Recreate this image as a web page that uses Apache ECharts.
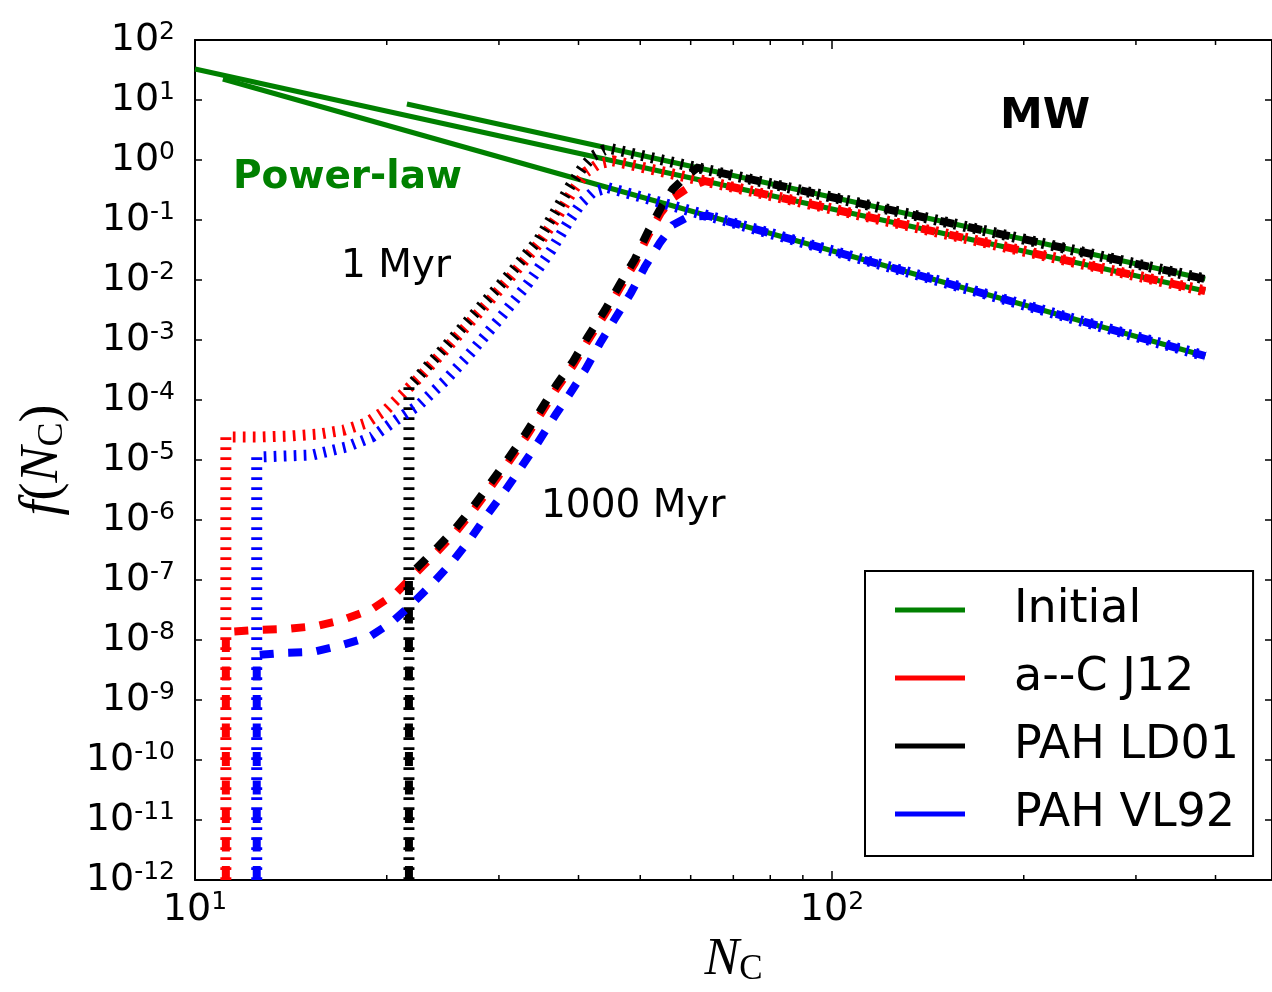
<!DOCTYPE html>
<html>
<head>
<meta charset="utf-8">
<script src="https://cdn.jsdelivr.net/npm/echarts@6/dist/echarts.min.js"></script>
<style>
html,body{margin:0;padding:0;background:#fff;}
#chart{width:1272px;height:992px;}
</style>
</head>
<body>
<div id="chart"></div>
<script>
// ---- axis extents & ticks ----
const xMin = 10, xMax = 490.6;
const yMin = 1e-12, yMax = 100;
const xMajorTicks = [10, 100];
const xMinorTicks = [20, 30, 40, 50, 60, 70, 80, 90, 200, 300, 400];
const yTickValues = [1e-12, 1e-11, 1e-10, 1e-9, 1e-8, 1e-7, 1e-6, 1e-5, 1e-4, 1e-3, 1e-2, 1e-1, 1, 10, 100];

// ---- legend ----
const legendNames = ['Initial', 'a--C J12', 'PAH LD01', 'PAH VL92'];
const legendColors = ['#008000', '#ff0000', '#000000', '#0000ff'];

// ---- Initial power laws (green) ----
const initRed = [[10, 32.8], [385.4, 6.56e-3]];
const initBlue = [[11.06, 22.4], [385.4, 5.41e-4]];
const initBlack = [[21.51, 8.58], [385.4, 1.04e-2]];

// ---- a--C J12 (red) ----
const red1Myr = [[11.18, 1e-12], [11.18, 2.42e-5], [12.64, 2.42e-5], [14.08, 2.51e-5], [15.68, 2.71e-5], [17.15, 3.16e-5], [18.57, 4.14e-5], [19.95, 6.81e-5], [22.46, 2.33e-4], [24.76, 7.08e-4], [27.88, 2.82e-3], [31.40, 1.166e-2], [34.59, 3.98e-2], [37.18, 0.1212], [39.25, 0.316], [41.12, 0.631], [42.94, 0.858], [45.33, 0.967], [385.4, 6.56e-3]];
const red1000Myr = [[11.18, 1e-12], [11.18, 1.36e-8], [12.50, 1.47e-8], [13.93, 1.53e-8], [15.51, 1.71e-8], [17.03, 2.15e-8], [18.97, 3.29e-8], [20.69, 6.07e-8], [22.22, 1.31e-7], [23.89, 2.82e-7], [25.67, 6.31e-7], [27.38, 1.47e-6], [29.11, 3.55e-6], [30.84, 8.25e-6], [33.01, 2.33e-5], [34.97, 6.07e-5], [36.93, 1.53e-4], [39.25, 3.83e-4], [41.43, 1e-3], [44.02, 2.71e-3], [46.46, 7.36e-3], [49.04, 1.92e-2], [51.38, 5.41e-2], [53.84, 0.131], [56.23, 0.233], [59.36, 0.341], [63.1, 0.447], [385.4, 6.56e-3]];

// ---- PAH LD01 (black) ----
const black1Myr = [[21.67, 1e-12], [21.67, 1.65e-4], [22.46, 2.51e-4], [24.76, 7.94e-4], [27.88, 3.29e-3], [31.40, 1.36e-2], [34.59, 4.64e-2], [36.91, 0.147], [38.82, 0.369], [40.54, 0.736], [42.17, 1.166], [43.86, 1.468], [45.15, 1.528], [385.4, 1.04e-2]];
const black1000Myr = [[21.67, 1e-12], [21.67, 1.0e-7], [22.22, 1.53e-7], [23.89, 3.29e-7], [25.67, 7.36e-7], [27.38, 1.71e-6], [29.11, 4.14e-6], [30.84, 9.62e-6], [33.01, 2.71e-5], [34.97, 7.08e-5], [36.93, 1.78e-4], [39.25, 4.47e-4], [41.43, 1.166e-3], [44.02, 3.16e-3], [46.46, 8.58e-3], [49.04, 2.24e-2], [51.38, 6.31e-2], [53.84, 0.158], [56.23, 0.329], [58.93, 0.521], [61.5, 0.744], [385.4, 1.04e-2]];

// ---- PAH VL92 (blue) ----
const blue1Myr = [[12.50, 1e-12], [12.50, 1.122e-5], [15.29, 1.212e-5], [17.28, 1.647e-5], [18.97, 2.42e-5], [20.69, 4.64e-5], [22.46, 8.25e-5], [24.76, 2.15e-4], [26.90, 5.62e-4], [29.96, 2.15e-3], [33.37, 8.91e-3], [36.26, 3.16e-2], [38.55, 9.26e-2], [40.40, 0.192], [42.17, 0.293], [44.5, 0.3465], [385.4, 5.41e-4]];
const blue1000Myr = [[12.50, 1e-12], [12.50, 5.62e-9], [13.73, 6.07e-9], [15.29, 6.31e-9], [17.03, 8.25e-9], [18.77, 1.12e-8], [20.39, 2.0e-8], [21.91, 3.98e-8], [23.71, 9.26e-8], [25.48, 2.15e-7], [27.19, 5.21e-7], [28.90, 1.31e-6], [30.73, 3.16e-6], [32.54, 7.64e-6], [34.59, 2.0e-5], [36.79, 5.62e-5], [38.83, 1.31e-4], [40.97, 3.16e-4], [43.25, 8.91e-4], [45.80, 2.42e-3], [48.34, 6.07e-3], [50.83, 1.647e-2], [53.65, 4.14e-2], [56.23, 8.25e-2], [59.36, 0.112], [63.8, 0.118], [385.4, 5.41e-4]];

// ---- text annotations ----
const annotations = [
  {text: 'MW', x: 1000, y: 117, font: 'bold 43px "DejaVu Sans"', color: '#000'},
  {text: 'Power-law', x: 233, y: 178, font: 'bold 39px "DejaVu Sans"', color: '#008000'},
  {text: '1 Myr', x: 341, y: 267, font: '39px "DejaVu Sans"', color: '#000'},
  {text: '1000 Myr', x: 541, y: 507, font: '39px "DejaVu Sans"', color: '#000'}
];

const FONT = 'DejaVu Sans';
const SERIF = 'Liberation Serif';
const DOTTED = [2.7, 7.3];
const DASHED = [14, 14.5];

function powLabel(v) {
  const e = Math.log10(v);
  const r = Math.round(e);
  if (Math.abs(e - r) > 1e-6) return '';
  return '{b|10}{s|' + r + '}';
}
const powRich = {
  b: {fontSize: 38, fontFamily: FONT, color: '#000', lineHeight: 40},
  s: {fontSize: 25, fontFamily: FONT, color: '#000', lineHeight: 12, verticalAlign: 'top'}
};

function lineSeries(name, data, color, width, type) {
  return {
    type: 'line', name: name, data: data, symbol: 'none', showSymbol: false,
    xAxisIndex: 0, yAxisIndex: 0, clip: true, silent: true,
    lineStyle: {color: color, width: width, type: type, cap: 'butt', join: 'miter'},
    itemStyle: {color: color}, emphasis: {disabled: true}
  };
}

const series = [
  lineSeries('g1', initRed, '#008000', 5, 'solid'),
  lineSeries('g2', initBlue, '#008000', 5, 'solid'),
  lineSeries('g3', initBlack, '#008000', 5, 'solid'),
  lineSeries('r1', red1Myr, '#ff0000', 11, DOTTED),
  lineSeries('r2', red1000Myr, '#ff0000', 8, DASHED),
  lineSeries('k1', black1Myr, '#000000', 11, DOTTED),
  lineSeries('k2', black1000Myr, '#000000', 8, DASHED),
  lineSeries('b1', blue1Myr, '#0000ff', 11, DOTTED),
  lineSeries('b2', blue1000Myr, '#0000ff', 8, DASHED)
];
legendNames.forEach((n, i) => {
  series.push(lineSeries(n, [], legendColors[i], 5, 'solid'));
});
series.push({
  type: 'custom', name: 'minorTicks', silent: true, clip: false, z: 5,
  xAxisIndex: 0, yAxisIndex: 0,
  data: xMinorTicks.map(v => [v, 1]),
  renderItem: function (params, api) {
    const v = api.value(0);
    const b = api.coord([v, yMin]);
    const t = api.coord([v, yMax]);
    return {
      type: 'group', children: [
        {type: 'line', shape: {x1: b[0], y1: b[1], x2: b[0], y2: b[1] - 5}, style: {stroke: '#000', lineWidth: 1.5}},
        {type: 'line', shape: {x1: t[0], y1: t[1], x2: t[0], y2: t[1] + 5}, style: {stroke: '#000', lineWidth: 1.5}}
      ]
    };
  }
});

const axisLineStyle = {show: true, onZero: false, lineStyle: {color: '#000', width: 2}};

const option = {
  animation: false,
  backgroundColor: '#fff',
  grid: {left: 195, top: 40, width: 1082, height: 840, containLabel: false},
  xAxis: [
    {
      type: 'log', logBase: 10, min: xMin, max: xMax, position: 'bottom',
      axisLine: axisLineStyle,
      axisTick: {show: true, inside: true, length: 9, customValues: xMajorTicks, lineStyle: {color: '#000', width: 1.5}},
      axisLabel: {show: true, customValues: xMajorTicks, margin: 10, formatter: powLabel, rich: powRich},
      splitLine: {show: false}, minorTick: {show: false}, minorSplitLine: {show: false},
      name: '{i|N}{s|C}', nameLocation: 'middle', nameGap: 53,
      nameTextStyle: {
        rich: {
          i: {fontFamily: SERIF, fontStyle: 'italic', fontSize: 52, color: '#000', lineHeight: 54},
          s: {fontFamily: SERIF, fontSize: 35, color: '#000', lineHeight: 30, verticalAlign: 'bottom'}
        }
      }
    },
    {
      type: 'log', logBase: 10, min: xMin, max: xMax, position: 'top',
      axisLine: axisLineStyle,
      axisTick: {show: true, inside: true, length: 9, customValues: xMajorTicks, lineStyle: {color: '#000', width: 1.5}},
      axisLabel: {show: false}, splitLine: {show: false}
    }
  ],
  yAxis: [
    {
      type: 'log', logBase: 10, min: yMin, max: yMax, position: 'left',
      axisLine: axisLineStyle,
      axisTick: {show: true, inside: true, length: 7, customValues: yTickValues, lineStyle: {color: '#000', width: 1.5}},
      axisLabel: {show: true, customValues: yTickValues, margin: 20, formatter: powLabel, rich: powRich},
      splitLine: {show: false}, minorTick: {show: false},
      name: '{i|f}{p|(}{i|N}{s|C}{p|)}', nameLocation: 'middle', nameRotate: 90, nameGap: 124,
      nameTextStyle: {
        rich: {
          i: {fontFamily: SERIF, fontStyle: 'italic', fontSize: 54, color: '#000', lineHeight: 56},
          p: {fontFamily: SERIF, fontSize: 54, color: '#000', lineHeight: 56},
          s: {fontFamily: SERIF, fontSize: 36, color: '#000', lineHeight: 32, verticalAlign: 'bottom'}
        }
      }
    },
    {
      type: 'log', logBase: 10, min: yMin, max: yMax, position: 'right',
      axisLine: axisLineStyle,
      axisTick: {show: true, inside: true, length: 7, customValues: yTickValues, lineStyle: {color: '#000', width: 1.5}},
      axisLabel: {show: false}, splitLine: {show: false}
    }
  ],
  legend: {
    show: true, orient: 'vertical', left: 865, top: 571,
    padding: [14, 14, 17, 30], itemGap: 18, itemWidth: 70, itemHeight: 5,
    icon: 'rect',
    borderColor: '#000', borderWidth: 2, borderRadius: 0, backgroundColor: '#fff',
    selectedMode: false, data: legendNames,
    formatter: function (name) { return '{g|}{t|' + name + '}'; },
    textStyle: {
      fontSize: 46, fontFamily: FONT, color: '#000', lineHeight: 50,
      rich: {g: {width: 44}, t: {fontSize: 46, fontFamily: FONT, color: '#000', lineHeight: 50}}
    }
  },
  graphic: annotations.map(a => ({
    type: 'text', x: a.x, y: a.y, silent: true, z: 100,
    style: {text: a.text, font: a.font, fill: a.color, align: 'left', verticalAlign: 'middle'}
  })),
  series: series
};

const chart = echarts.init(document.getElementById('chart'), null, {renderer: 'canvas'});
chart.setOption(option);
</script>
</body>
</html>
